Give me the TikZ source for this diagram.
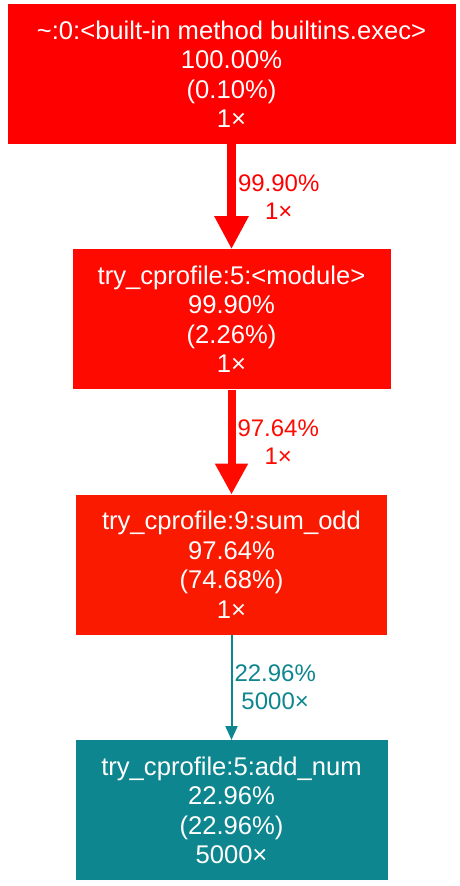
\documentclass[tikz,border=0pt]{standalone}
\usepackage{fontspec}
\setmainfont{Liberation Sans}
\usetikzlibrary{positioning, arrows.meta}

\definecolor{hotred}{RGB}{255,0,0}
\definecolor{warmred}{RGB}{254,10,0}
\definecolor{orangered}{RGB}{249,26,0}
\definecolor{profteal}{RGB}{14,134,143}

\begin{document}
\begin{tikzpicture}[
        x=1pt, y=-1pt,
        func_node/.style={rectangle, draw=none, text=white, align=center, inner sep=0pt,
                          minimum height=140pt, font=\fontsize{25.6}{29.5}\selectfont},
        edge_label/.style={right, align=center, inner sep=2pt, font=\fontsize{24}{28}\selectfont},
        node distance=105pt
        ]
            \useasboundingbox (0,0) rectangle (460,886);

            % functions
            \node[func_node, fill=hotred, minimum width=448pt] (exec) at (231.5,74)
                {\textasciitilde:0:<built-in method builtins.exec>\\100.00\%\\(0.10\%)\\1×};
            \node[func_node, fill=warmred, minimum width=318pt] (module) [below = of exec]
                {try\_cprofile:5:<module>\\99.90\%\\(2.26\%)\\1×};
            \node[func_node, fill=orangered, minimum width=311pt] (sum_odd) [below = of module]
                {try\_cprofile:9:sum\_odd\\97.64\%\\(74.68\%)\\1×};
            \node[func_node, fill=profteal, minimum width=312pt] (add_num) [below = of sum_odd]
                {try\_cprofile:5:add\_num\\22.96\%\\(22.96\%)\\5000×};

            % calls
            \draw[hotred, line width=9pt, -{Triangle[width=32pt, length=33pt]}] (exec) -- node[edge_label, text=hotred] {99.90\%\\1×} (module);
            \draw[warmred, line width=8pt, -{Triangle[width=31pt, length=31pt]}] (module) -- node[edge_label, text=warmred] {97.64\%\\1×} (sum_odd);
            \draw[profteal, line width=2pt, -{Triangle[width=12pt, length=14pt]}] (sum_odd) -- node[edge_label, text=profteal] {22.96\%\\5000×} (add_num);
        \end{tikzpicture}
\end{document}
